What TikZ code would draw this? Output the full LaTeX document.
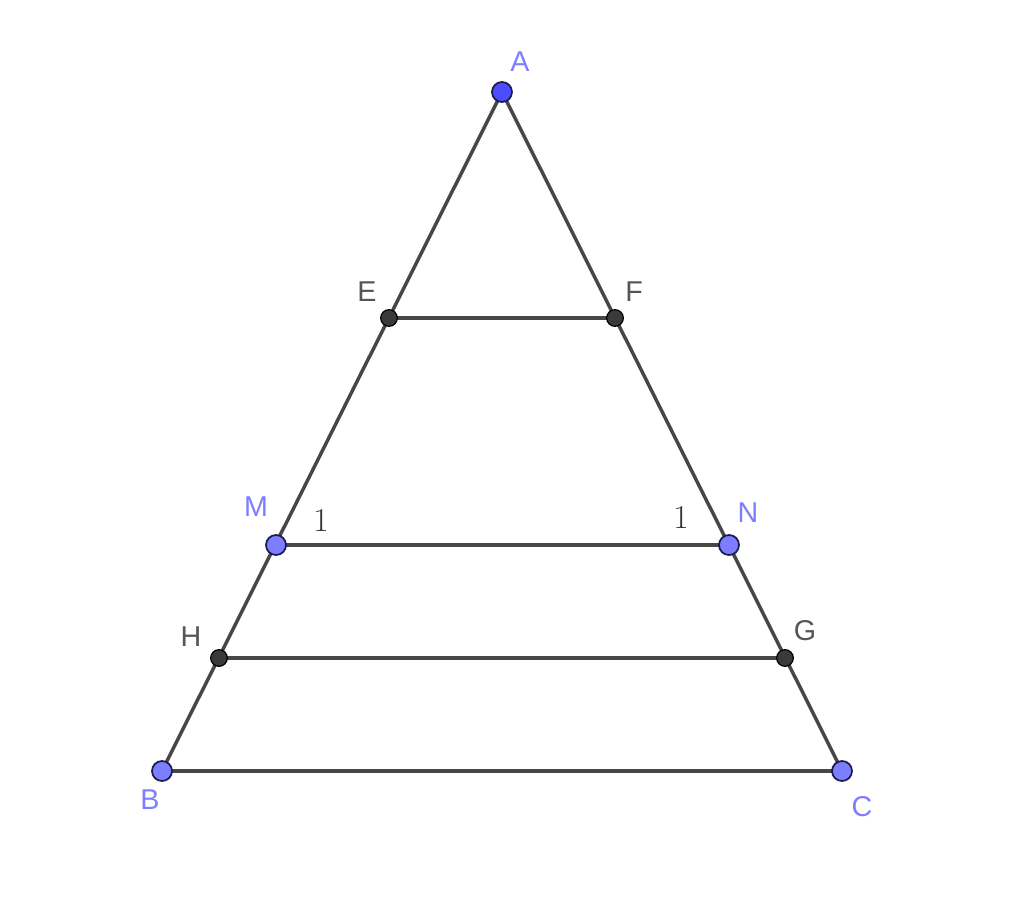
\documentclass[tikz,border=0pt]{standalone}
\usepackage{fontspec}
\setmainfont{Liberation Sans}
\newfontfamily\numfont{Latin Modern Roman}
\definecolor{seg}{HTML}{474747}
\definecolor{ptblue}{HTML}{7D7DFF}
\definecolor{ptA}{HTML}{4D4DFF}
\definecolor{ptedge}{HTML}{1A1A4D}
\definecolor{ptblack}{HTML}{3A3A3A}
\definecolor{lblblue}{HTML}{7D7DFF}
\definecolor{lblgray}{HTML}{555555}
\begin{document}
\begin{tikzpicture}[x=0.75pt,y=-0.75pt,
  segline/.style={draw=seg,line width=2.6pt},
  bluept/.style={circle,fill=ptblue,draw=ptedge,line width=1.3pt,inner sep=0pt,minimum size=15pt},
  apt/.style={bluept,fill=ptA},
  blackpt/.style={circle,fill=ptblack,draw=black,line width=0.9pt,inner sep=0pt,minimum size=12.5pt},
  bluelbl/.style={text=lblblue,font=\fontsize{21.5}{24}\selectfont,inner sep=0pt},
  graylbl/.style={text=lblgray,font=\fontsize{21.5}{24}\selectfont,inner sep=0pt},
  numlbl/.style={text=black!80,font=\numfont\fontsize{25}{28}\selectfont,inner sep=0pt}]
\useasboundingbox (0,0) rectangle (1024,910);
\coordinate (A) at (502,92);
\coordinate (E) at (389,318);
\coordinate (F) at (615,318);
\coordinate (M) at (276,545);
\coordinate (N) at (729,545);
\coordinate (H) at (219,658);
\coordinate (G) at (785,658);
\coordinate (B) at (162,771);
\coordinate (C) at (842,771);
\draw[segline] (A) -- (B);
\draw[segline] (A) -- (C);
\draw[segline] (B) -- (C);
\draw[segline] (E) -- (F);
\draw[segline] (M) -- (N);
\draw[segline] (H) -- (G);
\node[blackpt] (pE) at (E) {};
\node[blackpt] (pF) at (F) {};
\node[blackpt] (pH) at (H) {};
\node[blackpt] (pG) at (G) {};
\node[bluept] (pM) at (M) {};
\node[bluept] (pN) at (N) {};
\node[bluept] (pB) at (B) {};
\node[bluept] (pC) at (C) {};
\node[apt] (pA) at (A) {};
\node[bluelbl] (lA) at (520,62) {A};
\node[bluelbl] (lM) at (256,507) {M};
\node[bluelbl] (lN) at (748,513) {N};
\node[bluelbl] (lB) at (150,800) {B};
\node[bluelbl] (lC) at (862,807) {C};
\node[graylbl] (lE) at (367,292) {E};
\node[graylbl] (lF) at (634,292) {F};
\node[graylbl] (lH) at (191,637) {H};
\node[graylbl] (lG) at (805,631) {G};
\node[numlbl] (n1) at (321,520) {1};
\node[numlbl] (n2) at (681,517) {1};
\end{tikzpicture}
\end{document}
